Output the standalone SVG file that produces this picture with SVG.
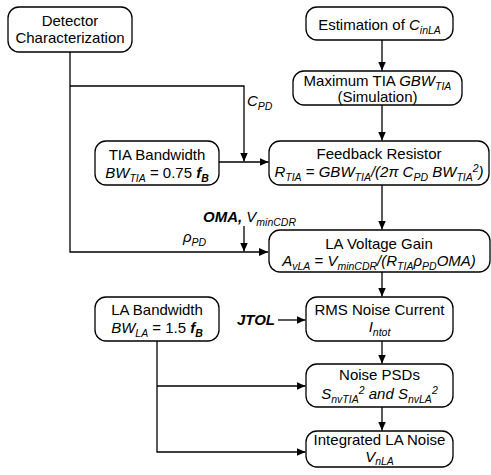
<svg xmlns="http://www.w3.org/2000/svg" width="491" height="475" viewBox="0 0 491 475">
  <style>
    .box { fill: #ffffff; stroke: #000000; stroke-width: 1.3; }
    .wire { fill: none; stroke: #000000; stroke-width: 1.3; }
    text { font-family: "Liberation Sans", Arial, sans-serif; font-size: 15px; fill: #000000; }
    .c { text-anchor: middle; }
    .i { font-style: italic; }
    .b { font-weight: bold; }
    .s { font-size: 10.5px; }
  </style>
  <defs>
    <marker id="arrow" markerUnits="userSpaceOnUse" markerWidth="10" markerHeight="8" refX="9" refY="4" orient="auto">
      <path d="M0,0 L9,4 L0,8 Z" fill="#000000"/>
    </marker>
  </defs>

  <!-- connectors -->
  <g id="connectors">
    <path class="wire" d="M70,52 V252 H268" marker-end="url(#arrow)"/>
    <path class="wire" d="M70,86 H244 V161.5" marker-end="url(#arrow)"/>
    <path class="wire" d="M219,162 H268.5" marker-end="url(#arrow)"/>
    <path class="wire" d="M382,40 V70.5" marker-end="url(#arrow)"/>
    <path class="wire" d="M382,105 V140.5" marker-end="url(#arrow)"/>
    <path class="wire" d="M382,185 V229.5" marker-end="url(#arrow)"/>
    <path class="wire" d="M244,226 V251.5" marker-end="url(#arrow)"/>
    <path class="wire" d="M382,272 V296.5" marker-end="url(#arrow)"/>
    <path class="wire" d="M278,320 H305.5" marker-end="url(#arrow)"/>
    <path class="wire" d="M382,341 V363.5" marker-end="url(#arrow)"/>
    <path class="wire" d="M157,341 V452 H305.5" marker-end="url(#arrow)"/>
    <path class="wire" d="M157,386 H305.5" marker-end="url(#arrow)"/>
    <path class="wire" d="M382,407 V430.5" marker-end="url(#arrow)"/>
  </g>

  <!-- edge labels -->
  <g id="labels">
    <text x="247" y="106" class="i">C<tspan class="s" dy="4">PD</tspan></text>
    <text x="203" y="222"><tspan class="b i">OMA,</tspan> <tspan class="i">V</tspan><tspan class="i s" dy="4">minCDR</tspan></text>
    <text x="183" y="242" class="i">ρ<tspan class="s" dy="4">PD</tspan></text>
    <text x="275" y="325" class="b i" text-anchor="end">JTOL</text>
  </g>

  <g id="detector">
    <rect class="box" x="8" y="7" width="124" height="45" rx="11"/>
    <text x="70" y="26" class="c">Detector</text>
    <text x="70" y="43" class="c">Characterization</text>
  </g>

  <g id="estimation">
    <rect class="box" x="306" y="7" width="147" height="33" rx="11"/>
    <text x="379.5" y="30" class="c">Estimation of <tspan class="i">C</tspan><tspan class="i s" dy="4">inLA</tspan></text>
  </g>

  <g id="max-gbw">
    <rect class="box" x="293" y="71" width="169" height="34" rx="11"/>
    <text x="377.5" y="86" class="c">Maximum TIA <tspan class="i">GBW</tspan><tspan class="i s" dy="4">TIA</tspan></text>
    <text x="377.5" y="102" class="c">(Simulation)</text>
  </g>

  <g id="tia-bandwidth">
    <rect class="box" x="95" y="141" width="124" height="44" rx="11"/>
    <text x="157" y="160" class="c">TIA Bandwidth</text>
    <text x="157" y="178" class="c"><tspan class="i">BW</tspan><tspan class="i s" dy="4">TIA</tspan><tspan dy="-4"> = 0.75 </tspan><tspan class="b i">f</tspan><tspan class="b i s" dy="4">B</tspan></text>
  </g>

  <g id="feedback-resistor">
    <rect class="box" x="269" y="141" width="220" height="44" rx="11"/>
    <text x="379" y="159" class="c">Feedback Resistor</text>
    <text x="379" y="177" class="c i">R<tspan class="s" dy="4">TIA</tspan><tspan dy="-4" font-style="normal"> = </tspan><tspan>GBW</tspan><tspan class="s" dy="4">TIA</tspan><tspan dy="-4">/(2π C</tspan><tspan class="s" dy="4">PD</tspan><tspan dy="-4"> BW</tspan><tspan class="s" dy="4">TIA</tspan><tspan class="s" dy="-9">2</tspan><tspan dy="5">)</tspan></text>
  </g>

  <g id="la-voltage-gain">
    <rect class="box" x="269" y="230" width="221" height="42" rx="11"/>
    <text x="379" y="249" class="c">LA Voltage Gain</text>
    <text x="379" y="266" class="c i">A<tspan class="s" dy="4">vLA</tspan><tspan dy="-4" font-style="normal"> = </tspan><tspan>V</tspan><tspan class="s" dy="4">minCDR</tspan><tspan dy="-4">/(R</tspan><tspan class="s" dy="4">TIA</tspan><tspan dy="-4">ρ</tspan><tspan class="s" dy="4">PD</tspan><tspan dy="-4">OMA)</tspan></text>
  </g>

  <g id="la-bandwidth">
    <rect class="box" x="95" y="297" width="124" height="44" rx="11"/>
    <text x="157" y="315" class="c">LA Bandwidth</text>
    <text x="157" y="333" class="c"><tspan class="i">BW</tspan><tspan class="i s" dy="4">LA</tspan><tspan dy="-4"> = 1.5 </tspan><tspan class="b i">f</tspan><tspan class="b i s" dy="4">B</tspan></text>
  </g>

  <g id="rms-noise">
    <rect class="box" x="306" y="297" width="147" height="44" rx="11"/>
    <text x="379.5" y="315" class="c">RMS Noise Current</text>
    <text x="379.5" y="332" class="c i">I<tspan class="s" dy="4">ntot</tspan></text>
  </g>

  <g id="noise-psds">
    <rect class="box" x="306" y="364" width="147" height="43" rx="11"/>
    <text x="379.5" y="380" class="c">Noise PSDs</text>
    <text x="379.5" y="399" class="c i">S<tspan class="s" dy="4">nvTIA</tspan><tspan class="s" dy="-9">2</tspan><tspan dy="5"> and S</tspan><tspan class="s" dy="4">nvLA</tspan><tspan class="s" dy="-9">2</tspan></text>
  </g>

  <g id="integrated-noise">
    <rect class="box" x="306" y="431" width="147" height="36" rx="11"/>
    <text x="379.5" y="445" class="c">Integrated LA Noise</text>
    <text x="379.5" y="462" class="c i">V<tspan class="s" dy="3">nLA</tspan></text>
  </g>
</svg>
